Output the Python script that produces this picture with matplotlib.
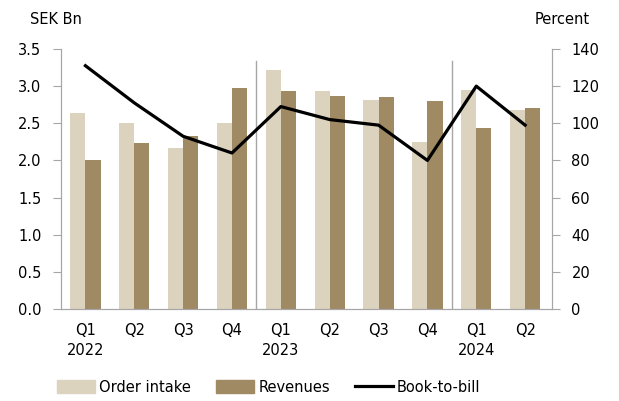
import matplotlib.pyplot as plt
import numpy as np
from matplotlib.lines import Line2D
from matplotlib.patches import Patch

plt.rcParams['font.family'] = ['DejaVu Sans']
plt.rcParams['font.size'] = 10.5

quarters = ['Q1', 'Q2', 'Q3', 'Q4', 'Q1', 'Q2', 'Q3', 'Q4', 'Q1', 'Q2']
years = ['2022', '', '', '', '2023', '', '', '', '2024', '']
order_intake = [2.64, 2.50, 2.17, 2.51, 3.22, 2.93, 2.82, 2.25, 2.95, 2.68]
revenues = [2.01, 2.23, 2.33, 2.97, 2.93, 2.87, 2.85, 2.80, 2.44, 2.70]
book_to_bill = [131, 111, 93, 84, 109, 102, 99, 80, 120, 99]

c_oi = '#DCD3BF'
c_rev = '#A08A64'
grey = '#A6A6A6'

fig = plt.figure(figsize=(6.19, 4.01), dpi=100)
ax = fig.add_axes([61/619, 1-309/401, (552-61)/619, 260/401])
ax2 = ax.twinx()

x = np.arange(len(quarters))
w = 0.31
ax.bar(x - w/2, order_intake, w, color=c_oi, zorder=2)
ax.bar(x + w/2, revenues, w, color=c_rev, zorder=2)
ax2.plot(x, book_to_bill, color='black', lw=2.3, zorder=3)

# year separators
for sep in [3.5, 7.5]:
    ax.axvline(sep, ymin=0, ymax=0.955, color=grey, lw=1, zorder=1)

ax.set_xlim(-0.5, 9.55)
ax.set_ylim(0, 3.5)
ax2.set_ylim(0, 140)
ax.set_yticks(np.arange(0, 3.51, 0.5))
ax.set_yticklabels([f'{v:.1f}' for v in np.arange(0, 3.51, 0.5)])
ax2.set_yticks(range(0, 141, 20))

ax.set_xticks(x)
ax.set_xticklabels([q + '\n' + y for q, y in zip(quarters, years)], linespacing=1.45)
ax.tick_params(axis='x', length=0, pad=10)
ax.tick_params(axis='y', length=6, color=grey, pad=8)
ax2.tick_params(axis='y', length=6, color=grey, pad=8)

for a in (ax, ax2):
    a.spines['top'].set_visible(False)
    for s in ('left', 'right', 'bottom'):
        a.spines[s].set_color(grey)

fig.text(30/619, 1-19/401, 'SEK Bn', ha='left', va='center')
fig.text(590/619, 1-19/401, 'Percent', ha='right', va='center')

handles = [Patch(color=c_oi), Patch(color=c_rev), Line2D([], [], color='black', lw=2.3)]
fig.legend(handles, ['Order intake', 'Revenues', 'Book-to-bill'], loc='center left',
           bbox_to_anchor=(44/619, 1-387/401), ncol=3, frameon=False,
           handlelength=2.6, handleheight=0.9, handletextpad=0.3, columnspacing=1.7)

fig.savefig('out.png', dpi=100)
